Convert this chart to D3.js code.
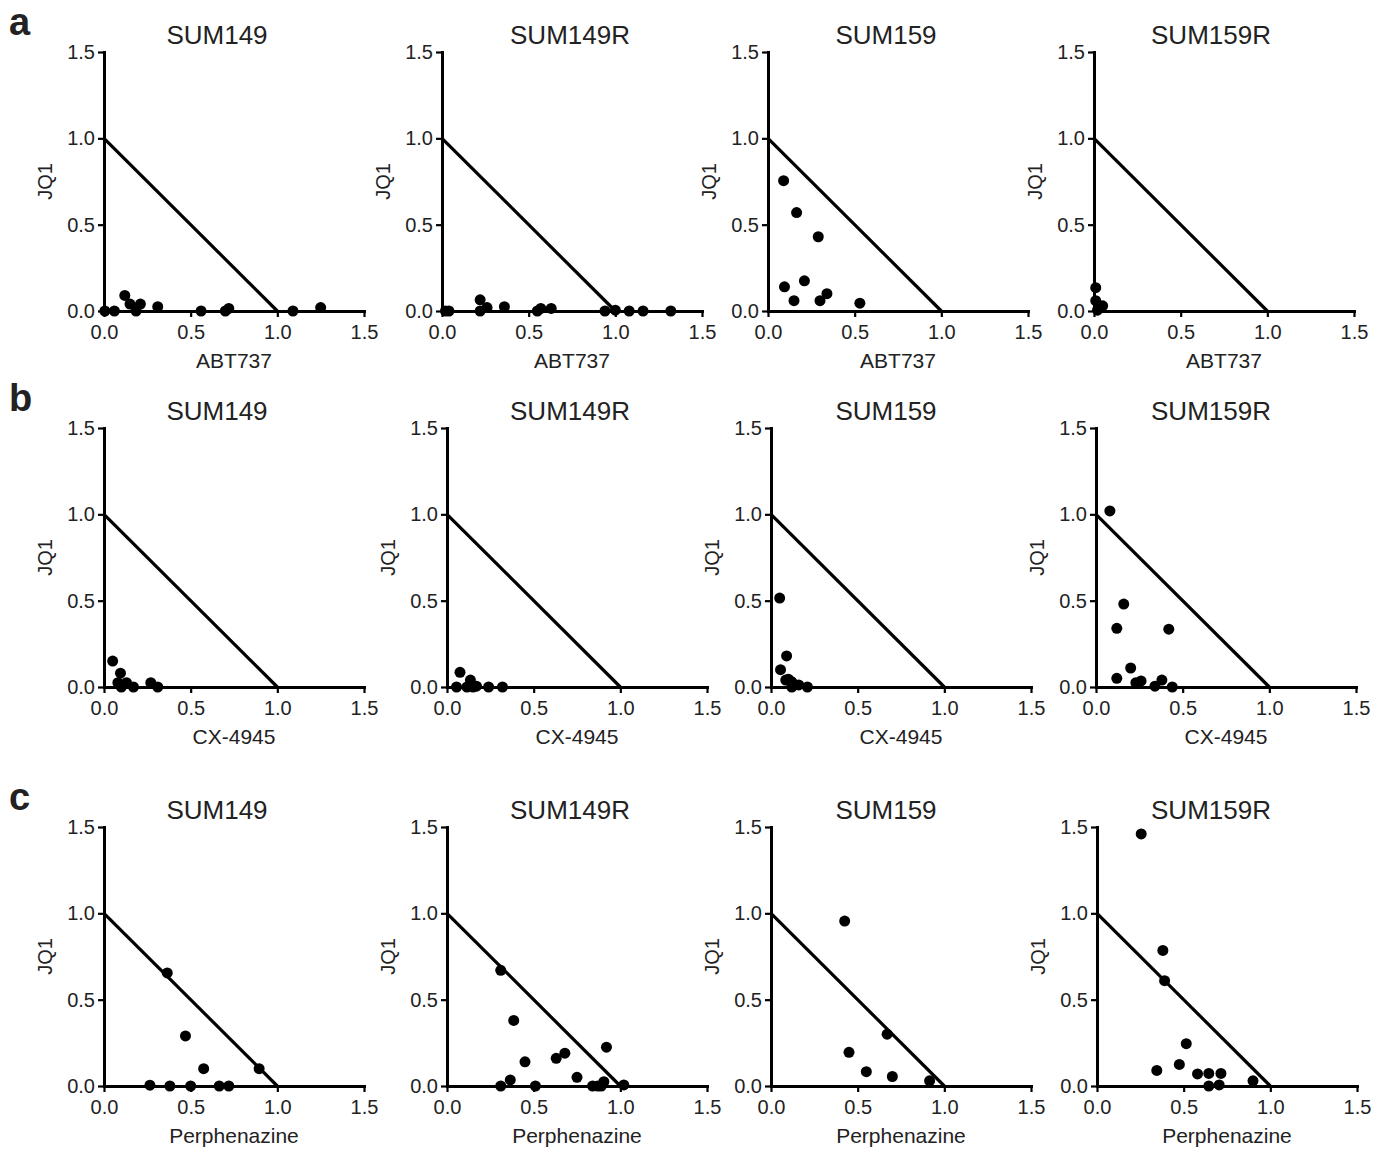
<!DOCTYPE html>
<html>
<head>
<meta charset="utf-8">
<script src="https://cdn.jsdelivr.net/npm/d3@7"></script>
<style>
  body { margin: 0; background: #fff; }
  svg { display: block; font-family: "Liberation Sans", Arial, sans-serif; }
</style>
</head>
<body>
<svg id="chart" width="1386" height="1149"></svg>
<script>
// Categories
const cellLines = ['SUM149', 'SUM149R', 'SUM159', 'SUM159R'];
const drugs = ['ABT737', 'CX-4945', 'Perphenazine'];
const rowLetters = ['a', 'b', 'c'];
const yLabel = 'JQ1';
const tickValues = [0, 0.5, 1.0, 1.5];
// additivity line of the isobologram
const additivityLine = [[0, 1], [1, 0]];

// Normalised dose pairs [drug, JQ1]
const abt737Sum149 = [[0.005, 0], [0.06, 0], [0.12, 0.09], [0.15, 0.04], [0.185, 0], [0.21, 0.04],
  [0.31, 0.025], [0.56, 0], [0.70, 0], [0.72, 0.015], [1.09, 0], [1.25, 0.02]];
const abt737Sum149R = [[0.02, 0], [0.04, 0], [0.22, 0.065], [0.22, 0], [0.26, 0.02], [0.36, 0.025],
  [0.55, 0], [0.57, 0.015], [0.63, 0.015], [0.94, 0], [1.0, 0.005], [1.08, 0], [1.16, 0], [1.32, 0]];
const abt737Sum159 = [[0.09, 0.755], [0.165, 0.57], [0.29, 0.43], [0.095, 0.14], [0.21, 0.175],
  [0.15, 0.06], [0.30, 0.06], [0.34, 0.10], [0.53, 0.045]];
const abt737Sum159R = [[0.01, 0.135], [0.01, 0.06], [0.03, 0.03], [0.05, 0.03], [0.02, 0.005]];

const cx4945Sum149 = [[0.05, 0.15], [0.095, 0.08], [0.08, 0.025], [0.10, 0], [0.13, 0.025],
  [0.17, 0], [0.27, 0.025], [0.31, 0]];
const cx4945Sum149R = [[0.055, 0], [0.075, 0.085], [0.115, 0], [0.135, 0.04], [0.15, 0],
  [0.17, 0.005], [0.24, 0], [0.32, 0]];
const cx4945Sum159 = [[0.05, 0.515], [0.09, 0.18], [0.055, 0.10], [0.085, 0.04], [0.10, 0.045],
  [0.12, 0.03], [0.12, 0], [0.16, 0.012], [0.21, 0]];
const cx4945Sum159R = [[0.08, 1.02], [0.16, 0.48], [0.12, 0.34], [0.42, 0.335], [0.20, 0.11],
  [0.12, 0.05], [0.23, 0.025], [0.26, 0.035], [0.34, 0.005], [0.38, 0.04], [0.44, 0]];

const perphSum149 = [[0.365, 0.655], [0.47, 0.29], [0.575, 0.10], [0.895, 0.10], [0.265, 0.005],
  [0.38, 0], [0.50, 0], [0.665, 0], [0.72, 0]];
const perphSum149R = [[0.31, 0.67], [0.385, 0.38], [0.45, 0.14], [0.63, 0.16], [0.68, 0.19],
  [0.75, 0.05], [0.92, 0.225], [0.31, 0], [0.365, 0.035], [0.51, 0], [0.84, 0], [0.87, 0],
  [0.89, 0], [0.905, 0.025], [1.02, 0.006]];
const perphSum159 = [[0.425, 0.955], [0.67, 0.30], [0.45, 0.195], [0.55, 0.083], [0.70, 0.055],
  [0.915, 0.03]];
const perphSum159R = [[0.255, 1.46], [0.38, 0.785], [0.39, 0.61], [0.515, 0.245], [0.475, 0.125],
  [0.345, 0.09], [0.58, 0.07], [0.645, 0.073], [0.715, 0.073], [0.645, 0], [0.705, 0.006],
  [0.90, 0.03]];

const panelData = [
  [abt737Sum149, abt737Sum149R, abt737Sum159, abt737Sum159R],
  [cx4945Sum149, cx4945Sum149R, cx4945Sum159, cx4945Sum159R],
  [perphSum149, perphSum149R, perphSum159, perphSum159R],
];

// Layout
const plotW = 260;
const plotH = 259;
const rowTops = [52, 428, 827];
const colLefts = [
  [104, 442, 768, 1094],
  [104, 447, 771, 1096],
  [104, 447, 771, 1097],
];
const titleCenters = [217, 570, 886, 1211];
const textColor = '#222';

const svg = d3.select('#chart');

rowLetters.forEach((letter, r) => {
  svg.append('text')
     .text(letter)
     .attr('x', 9)
     .attr('y', rowTops[r] - 17)
     .attr('font-size', 38)
     .attr('font-weight', 'bold')
     .attr('fill', textColor);
});

drugs.forEach((drug, r) => {
  cellLines.forEach((cell, c) => {
    const left = colLefts[r][c];
    const top = rowTops[r];

    const x = d3.scaleLinear().domain([0, 1.5]).range([0, plotW]);
    const y = d3.scaleLinear().domain([0, 1.5]).range([plotH, 0]);

    const g = svg.append('g').attr('transform', `translate(${left}, ${top})`);

    // Title
    svg.append('text')
       .text(cell)
       .attr('x', titleCenters[c])
       .attr('y', top - 8)
       .attr('text-anchor', 'middle')
       .attr('font-size', 26)
       .attr('fill', textColor);

    // Axes
    const xAxis = d3.axisBottom(x)
                    .tickValues(tickValues)
                    .tickFormat(d3.format('.1f'))
                    .tickSizeInner(6)
                    .tickSizeOuter(0)
                    .tickPadding(8);
    const yAxis = d3.axisLeft(y)
                    .tickValues(tickValues)
                    .tickFormat(d3.format('.1f'))
                    .tickSizeInner(6)
                    .tickSizeOuter(0)
                    .tickPadding(3);

    const gx = g.append('g')
                .attr('transform', `translate(0, ${plotH})`)
                .call(xAxis);
    const gy = g.append('g').call(yAxis);

    [gx, gy].forEach((ax) => {
      ax.select('.domain').attr('stroke', '#000').attr('stroke-width', 3)
        .attr('stroke-linecap', 'square');
      ax.selectAll('.tick line').attr('stroke', '#000').attr('stroke-width', 2.2);
      ax.selectAll('.tick text')
        .attr('font-size', 20)
        .attr('font-family', '"Liberation Sans", Arial, sans-serif')
        .attr('fill', textColor);
    });

    // Axis labels
    g.append('text')
     .text(drug)
     .attr('x', plotW / 2)
     .attr('y', plotH + 57)
     .attr('text-anchor', 'middle')
     .attr('font-size', 21)
     .attr('fill', textColor);

    g.append('text')
     .text(yLabel)
     .attr('transform', `translate(-52, ${plotH / 2}) rotate(-90)`)
     .attr('text-anchor', 'middle')
     .attr('font-size', 20)
     .attr('fill', textColor);

    // Additivity line
    g.append('path')
     .datum(additivityLine)
     .attr('d', d3.line().x((d) => x(d[0])).y((d) => y(d[1])))
     .attr('fill', 'none')
     .attr('stroke', '#000')
     .attr('stroke-width', 3.2);

    // Points
    g.selectAll('circle')
     .data(panelData[r][c])
     .join('circle')
     .attr('cx', (d) => x(d[0]))
     .attr('cy', (d) => y(d[1]))
     .attr('r', 5.5)
     .attr('fill', '#000');
  });
});
</script>
</body>
</html>
